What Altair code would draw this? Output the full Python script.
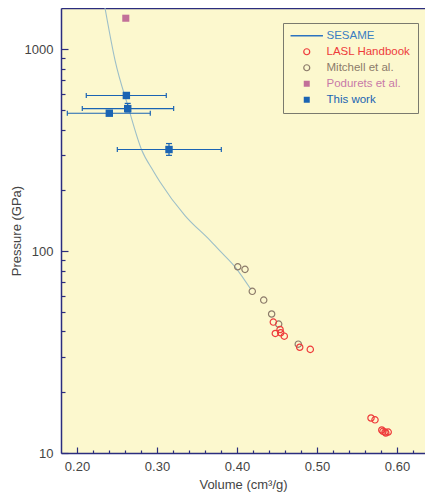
import altair as alt
import pandas as pd

# ---------------- data ----------------
sesame_v = [0.235, 0.2475, 0.264, 0.281, 0.295, 0.3038, 0.335, 0.3663, 0.379, 0.3975, 0.4175]
sesame_p = [1600, 883, 518, 316, 251, 220, 150, 113, 100, 83.6, 64.5]

lasl_v = [0.4454, 0.4538, 0.4479, 0.4546, 0.4591, 0.4784, 0.4916, 0.5675, 0.5725, 0.581, 0.585, 0.589, 0.586, 0.5825]
lasl_p = [44.5, 40.9, 39.1, 39.4, 37.9, 33.4, 32.6, 14.9, 14.6, 13.0, 12.7, 12.7, 12.56, 12.8]

mitchell_v = [0.4009, 0.41, 0.4191, 0.4334, 0.4433, 0.4521, 0.4766]
mitchell_p = [83.6, 81.2, 63.2, 57.2, 48.8, 43.5, 34.6]

podurets_v = [0.261]
podurets_p = [1424]

tw_v = [0.2617, 0.2634, 0.2404, 0.315]
tw_p = [590, 508, 482, 318.6]
tw_v_lo = [0.2116, 0.2066, 0.1879, 0.2504]
tw_v_hi = [0.3116, 0.3208, 0.2916, 0.3804]

# vertical error bars (only two points have visible ones)
twe_v = [0.2634, 0.315]
twe_p_lo = [489, 298]
twe_p_hi = [539, 341]

x_major = [0.2, 0.3, 0.4, 0.5, 0.6]
x_minor = [0.22, 0.24, 0.26, 0.28, 0.32, 0.34, 0.36, 0.38, 0.42, 0.44, 0.46, 0.48,
           0.52, 0.54, 0.56, 0.58, 0.62]
y_major = [10, 100, 1000]
y_minor = [20, 30, 40, 50, 60, 70, 80, 90, 200, 300, 400, 500, 600, 700, 800, 900]

series_names = ["SESAME", "LASL Handbook", "Mitchell et al.", "Podurets et al.", "This work"]
series_stroke = ["#2C73C0", "#EE3B3B", "#8C7B6A", "#C27099", "#1B64B3"]
series_fill = ["transparent", "transparent", "transparent", "#C27099", "#1B64B3"]

# ---------------- style ----------------
navy = "#2B2D7E"
txt = "#444444"
bg = "#FCF8CE"
font = "Liberation Sans"
tw_col = "#1B64B3"
curve_col = "#9DBFC8"

xs = alt.Scale(domain=[0.18, 0.635], nice=False, zero=False)
ys = alt.Scale(type="log", domain=[10, 1600], nice=False)
ss = alt.Scale(domain=series_names, range=series_stroke)
fs = alt.Scale(domain=series_names, range=series_fill)

label_fill = ("datum.label === 'SESAME' ? '#3A7EC2' : datum.label === 'LASL Handbook' ? '#EE3B3B' : "
              "datum.label === 'Mitchell et al.' ? '#8C7B6A' : datum.label === 'Podurets et al.' ? '#C878A8' : '#1B64B3'")
sym_shape = ("datum.label === 'SESAME' ? 'M-5.4,0L5.4,0' : "
             "(datum.label === 'LASL Handbook' || datum.label === 'Mitchell et al.') ? 'circle' : 'square'")
sym_sw = "datum.label === 'SESAME' ? 1.3 : (datum.label === 'LASL Handbook' || datum.label === 'Mitchell et al.') ? 1.2 : 0"

legend = alt.Legend(
    title=None, orient="none", legendX=222, legendY=15,
    padding=7, symbolOffset=11, labelOffset=14, rowPadding=3,
    labelFontSize=11.5, labelFont=font, symbolSize=36,
    strokeColor="#7A7A6E", fillColor=bg, cornerRadius=0,
    labelColor=alt.ExprRef(label_fill),
    symbolType=alt.ExprRef(sym_shape),
    symbolStrokeWidth=alt.ExprRef(sym_sw),
    symbolOpacity=1,
)

ax_x_main = alt.Axis(title="Volume (cm³/g)", orient="bottom", values=x_major, format=".2f",
                     ticks=False, tickSize=0, domain=True, domainColor=navy, domainWidth=1.5,
                     labelFontSize=13, labelColor=txt, labelFont=font, labelPadding=7,
                     labelFlush=False, labelOverlap=False,
                     titleFontSize=13, titleFontWeight="normal", titleColor=txt, titleFont=font,
                     titlePadding=5, grid=False)
ax_y_main = alt.Axis(title="Pressure (GPa)", orient="left", values=y_major, format="d",
                     ticks=False, tickSize=0, domain=True, domainColor=navy, domainWidth=1.5,
                     labelFontSize=13, labelColor=txt, labelFont=font, labelPadding=8,
                     labelFlush=False, labelOverlap=False,
                     titleFontSize=13, titleFontWeight="normal", titleColor=txt, titleFont=font,
                     titleX=-45, titleBaseline="middle", grid=False)
ax_x_major = alt.Axis(title=None, orient="bottom", offset=-6, values=x_major, labels=False,
                      domain=False, ticks=True, tickSize=6, tickColor=navy, tickWidth=1.2, grid=False)
ax_x_minor = alt.Axis(title=None, orient="bottom", offset=-3, values=x_minor, labels=False,
                      domain=False, ticks=True, tickSize=3, tickColor=navy, tickWidth=1.2, grid=False)
ax_y_major = alt.Axis(title=None, orient="left", offset=-7, values=y_major, labels=False,
                      domain=False, ticks=True, tickSize=7, tickColor=navy, tickWidth=1.2, grid=False)
ax_y_minor = alt.Axis(title=None, orient="left", offset=-4, values=y_minor, labels=False,
                      domain=False, ticks=True, tickSize=4, tickColor=navy, tickWidth=1.2, grid=False)
ax_x_top = alt.Axis(title=None, orient="top", labels=False, ticks=False, domain=True,
                    domainColor=navy, domainWidth=1.5, grid=False)

# ---------------- tables ----------------
sesame_df = pd.DataFrame({"V": sesame_v, "P": sesame_p})
lasl_df = pd.DataFrame({"V": lasl_v, "P": lasl_p, "series": "LASL Handbook"})
mitchell_df = pd.DataFrame({"V": mitchell_v, "P": mitchell_p, "series": "Mitchell et al."})
pod_df = pd.DataFrame({"V": podurets_v, "P": podurets_p, "series": "Podurets et al."})
tw_df = pd.DataFrame({"V": tw_v, "P": tw_p, "Vlo": tw_v_lo, "Vhi": tw_v_hi, "series": "This work"})
hcap_df = pd.DataFrame({"V": tw_v_lo + tw_v_hi, "P": tw_p + tw_p})
twe_df = pd.DataFrame({"V": twe_v, "Plo": twe_p_lo, "Phi": twe_p_hi})
vcap_df = pd.DataFrame({"V": twe_v + twe_v, "P": twe_p_lo + twe_p_hi})

stroke_enc = alt.Stroke("series:N", scale=ss, legend=legend)
fill_enc = alt.Fill("series:N", scale=fs, legend=legend)

sesame = alt.Chart(sesame_df).mark_line(strokeWidth=1.1, clip=True, interpolate="monotone", color=curve_col).encode(
    x=alt.X("V:Q", scale=xs, axis=ax_x_main),
    y=alt.Y("P:Q", scale=ys, axis=ax_y_main),
)

mitchell = alt.Chart(mitchell_df).mark_point(shape="circle", filled=False, size=40, strokeWidth=1.2, opacity=1).encode(
    x=alt.X("V:Q", scale=xs, axis=ax_x_major),
    y=alt.Y("P:Q", scale=ys, axis=ax_y_major),
    stroke=stroke_enc,
)

lasl = alt.Chart(lasl_df).mark_point(shape="circle", filled=False, size=40, strokeWidth=1.2, opacity=1).encode(
    x=alt.X("V:Q", scale=xs, axis=ax_x_minor),
    y=alt.Y("P:Q", scale=ys, axis=ax_y_minor),
    stroke=stroke_enc,
)

pod = alt.Chart(pod_df).mark_square(size=50, opacity=1).encode(
    x=alt.X("V:Q", scale=xs, axis=ax_x_top),
    y=alt.Y("P:Q", scale=ys, axis=None),
    fill=fill_enc,
)

herr = alt.Chart(tw_df).mark_rule(color=tw_col, strokeWidth=1.1).encode(
    x=alt.X("Vlo:Q", scale=xs, axis=None),
    x2="Vhi:Q",
    y=alt.Y("P:Q", scale=ys, axis=None),
)

hcap = alt.Chart(hcap_df).mark_tick(orient="vertical", size=5, thickness=1.2, color=tw_col, opacity=1).encode(
    x=alt.X("V:Q", scale=xs, axis=None),
    y=alt.Y("P:Q", scale=ys, axis=None),
)

verr = alt.Chart(twe_df).mark_rule(color=tw_col, strokeWidth=1.2).encode(
    x=alt.X("V:Q", scale=xs, axis=None),
    y=alt.Y("Plo:Q", scale=ys, axis=None),
    y2="Phi:Q",
)

vcap = alt.Chart(vcap_df).mark_tick(orient="horizontal", size=6, thickness=1.2, color=tw_col, opacity=1).encode(
    x=alt.X("V:Q", scale=xs, axis=None),
    y=alt.Y("P:Q", scale=ys, axis=None),
)

tw = alt.Chart(tw_df).mark_square(size=55, opacity=1).encode(
    x=alt.X("V:Q", scale=xs, axis=None),
    y=alt.Y("P:Q", scale=ys, axis=None),
    fill=fill_enc,
)

chart = alt.layer(
    sesame, mitchell, lasl, pod, herr, hcap, verr, vcap, tw
).resolve_axis(
    x="independent", y="independent"
).properties(
    width=364, height=445,
    autosize=alt.AutoSizeParams(type="none"),
    padding={"left": 53, "top": 0, "right": 0, "bottom": 39},
    background="white",
).configure_view(
    fill=bg, strokeWidth=0
)

chart.save("out.html", embed_options={"renderer": "svg", "actions": False})
